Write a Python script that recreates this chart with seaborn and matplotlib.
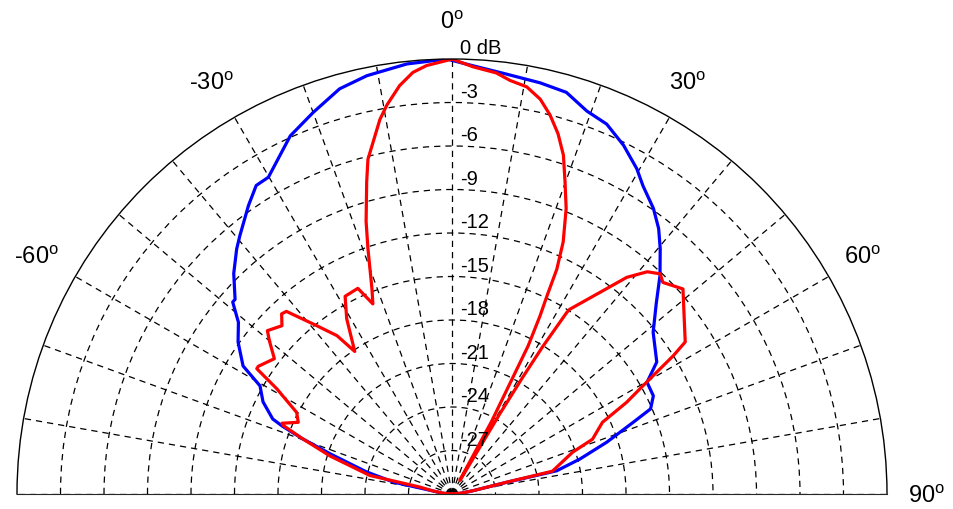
import numpy as np
import pandas as pd
import matplotlib
matplotlib.use("Agg")
import matplotlib.pyplot as plt
import seaborn as sns

# ---- data (angle in degrees, level in dB) ----
blue_theta = [-90, -85, -81, -78.5, -75.5, -71.8, -69.7, -68.2, -67.3, -64.0, -60.6, -58.5,
              -54.6, -51.2, -48.8, -48.1, -44.7, -41.3, -39.4, -35.2, -32.4, -30.1, -24.3,
              -20.0, -15.5, -11.5, -6.0, -0.7, 2.8, 7.4, 12.1, 15.9, 19.4, 22.7, 26.2, 29.6,
              31.8, 35.2, 37.9, 40.3, 43.6, 46.9, 51.2, 57.2, 60.2, 64.0, 66.8, 68.4, 71.5,
              74.7, 77.5, 77.9, 81, 85, 90]
blue_db = [-30, -29.3, -28.7, -25.9, -23.9, -21.2, -19.0, -17.4, -16.6, -15.5, -14.8, -13.1,
           -11.9, -11.1, -9.9, -9.9, -8.6, -7.5, -6.95, -5.65, -4.8, -4.75, -2.9,
           -2.0, -1.0, -0.56, -0.18, 0.0, -0.43, -0.8, -1.0, -1.2, -2.0, -2.35, -3.2, -4.2,
           -5.0, -5.9, -6.8, -7.8, -9.2, -10.7, -12.2, -13.2, -14.5, -14.55, -15.1, -16.55, -18.75,
           -20.85, -22.6, -26.1, -28.5, -29.4, -30]

red_theta = [-90, -85, -80.5, -77.8, -77.3, -72.7, -69.7, -67.9, -67.4, -65.0, -62.3, -59.0,
             -57.3, -56.6, -52.7, -50.1, -48.5, -45.3, -43.4, -42.2, -38.8, -36.0, -34.3,
             -31.0, -28.4, -24.6, -22.6, -21.3, -18.9, -17.5, -15.3, -14.1, -12.6, -10.9,
             -9.5, -7.3, -5.3, -3.4, -0.7, 0.0, 2.8, 6.0, 8.0, 10.4, 12.6, 14.5, 16.4, 18.2,
             19.9, 21.8, 23.8, 25.0, 25.6, 26.3, 27.2, 27.6, 28.6, 29.5, 30.5, 30.8, 31.2,
             31.6, 32.3, 32.5, 36.2, 38.9, 41.3, 43.4, 44.9, 48.4, 56.9, 58.0, 60.5, 62.3,
             64.5, 68.7, 70.9, 77.2, 77.8, 81, 85, 90]
red_db = [-30, -29.4, -28.6, -27.7, -24.2, -21.2, -19.0, -17.45, -17.3, -18.3, -17.9, -15.9,
          -14.0, -14.0, -14.6, -13.6, -13.0, -13.5, -12.9, -13.0, -15.1, -16.5, -18.1,
          -15.9, -14.5, -14.4, -15.8, -14.8, -12.1, -10.3, -7.7, -6.2, -5.1, -3.7,
          -2.8, -1.6, -0.8, -0.4, -0.1, 0.0, -0.5, -0.8, -1.2, -1.45, -2.1, -3.0, -4.1, -5.4,
          -7.1, -8.8, -11.0, -12.9, -14.8, -16.3, -18.5, -21.1, -24.3, -28.9, -28.9, -23.6, -20.6,
          -18.1, -15.2, -14.9, -12.8, -10.8, -9.6, -9.1, -9.4, -8.7, -10.8, -12.0, -14.9, -16.4,
          -18.5, -19.6, -21.2, -22.9, -26.1, -28.5, -29.4, -30]

ring_levels = [0, -3, -6, -9, -12, -15, -18, -21, -24, -27]
ring_labels = ["0 dB", "-3", "-6", "-9", "-12", "-15", "-18", "-21", "-24", "-27"]
angle_ticks = [0, -30, 30, -60, 60, 90]
angle_labels = ["0", "-30", "30", "-60", "60", "90"]

floor_db = -30.0

# ---- style ----
sns.set_style("white")
plt.rcParams["font.family"] = ["Liberation Sans", "DejaVu Sans"]
plt.rcParams["mathtext.fontset"] = "custom"
plt.rcParams["mathtext.rm"] = "Liberation Sans"
plt.rcParams["mathtext.it"] = "Liberation Sans"

W, H = 954, 510
cx, cy, R = 452, 495, 435          # centre (px from top-left) and outer radius
S = 2 * R                          # square box holding the full circle
top = (cy - R / 2) - S / 2         # half-disc is centred vertically in the square
fig = plt.figure(figsize=(W / 100, H / 100), dpi=100)
fig.patch.set_facecolor("white")
ax = fig.add_axes([(cx - R) / W, (H - (top + S)) / H, S / W, S / H], projection="polar")
ax.set_theta_zero_location("N")
ax.set_theta_direction(-1)
ax.set_thetamin(-90)
ax.set_thetamax(90)
ax.set_ylim(0, -floor_db)
ax.set_facecolor("white")

# grid
ax.set_xticks(np.deg2rad(np.arange(-90, 91, 10)))
ax.set_yticks([lv - floor_db for lv in ring_levels[1:]])
ax.set_xticklabels([])
ax.set_yticklabels([])
ax.tick_params(length=0)
ax.grid(True, color="black", linestyle=(0, (5, 4)), linewidth=0.9)
for key in ("start", "end", "inner"):
    if key in ax.spines:
        ax.spines[key].set_visible(False)
ax.spines["polar"].set_color("black")
ax.spines["polar"].set_linewidth(1.0)

# data
df_b = pd.DataFrame({"theta": np.deg2rad(blue_theta), "r": np.array(blue_db) - floor_db})
df_r = pd.DataFrame({"theta": np.deg2rad(red_theta), "r": np.array(red_db) - floor_db})
sns.lineplot(data=df_b, x="theta", y="r", ax=ax, sort=False, estimator=None,
             color="#0000ff", linewidth=2.3)
sns.lineplot(data=df_r, x="theta", y="r", ax=ax, sort=False, estimator=None,
             color="#ff0000", linewidth=2.3)
ax.set_xlabel("")
ax.set_ylabel("")
ax.set_xlim(np.deg2rad(-90), np.deg2rad(90))
ax.set_ylim(0, -floor_db)

# ring labels
for lv, lab in zip(ring_levels, ring_labels):
    ax.annotate(lab, xy=(0, lv - floor_db), xytext=(6, 8), textcoords="offset points",
                ha="left", va="center", fontsize=14.5, color="black")

# angle labels (small pixel nudges to match the reference placement)
nudges = {0: (0, -2), -30: (-3, 0), 30: (-2, 0), -60: (-5, 0), 60: (0, 0), 90: (0, -2)}
for a, lab in zip(angle_ticks, angle_labels):
    dx, dy = nudges[a]
    ax.annotate(lab + r"$^{\mathrm{o}}$", xy=(np.deg2rad(a), 32.7),
                xytext=(dx * 0.72, dy * 0.72), textcoords="offset points",
                ha="center", va="center", fontsize=17, color="black",
                annotation_clip=False)

fig.savefig("out.png", dpi=100, facecolor="white")
